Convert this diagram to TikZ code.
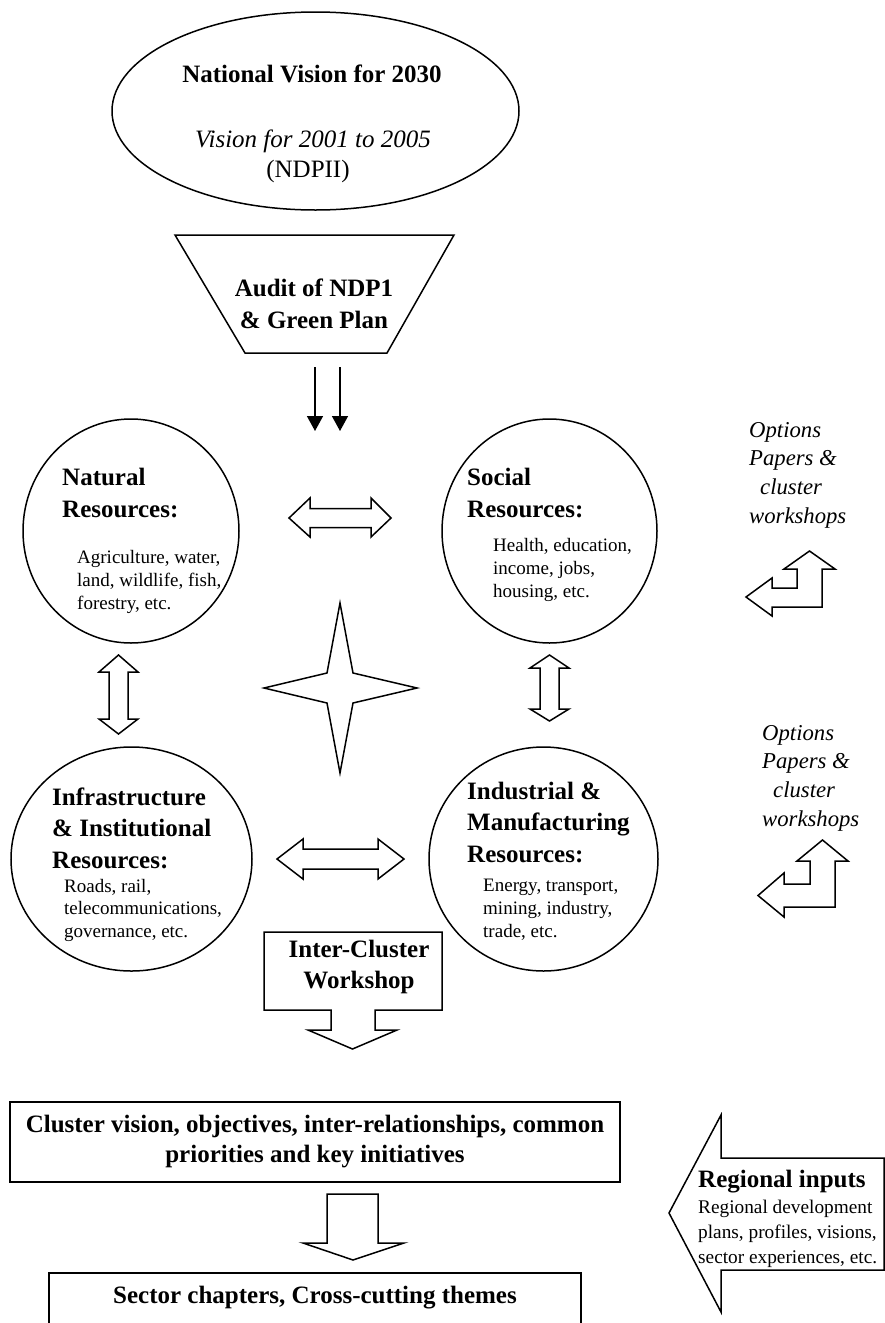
\documentclass[tikz,border=0pt]{standalone}
\usepackage{fontspec}
\setmainfont{Liberation Serif}
\usetikzlibrary{arrows.meta,shapes.geometric}
\newcommand{\firstht}[1]{\rule{0pt}{#1pt}}
\tikzset{
  outline/.style={draw=black, line width=1.5pt, line join=miter},
  bubble/.style={outline, ellipse, inner sep=0pt},
  bigb/.style={font=\fontsize{25}{32}\selectfont\bfseries, inner sep=0pt},
  bigbx/.style={font=\fontsize{25}{31.5}\selectfont\bfseries, inner sep=0pt},
  smalltxt/.style={font=\fontsize{19}{23}\selectfont, inner sep=0pt, align=left},
  opttxt/.style={font=\fontsize{22.7}{28.7}\selectfont\itshape, inner sep=0pt, align=left},
  thinarrow/.style={line width=1.5pt, -{Triangle[width=16pt,length=15pt]}},
}
\begin{document}
\begin{tikzpicture}[x=1pt,y=-1pt]
\useasboundingbox (0,0) rectangle (885,1323);

% top ellipse
\node[bubble, minimum width=407pt, minimum height=198pt] (vision) at (315.5,111) {};
\node[bigb, anchor=base] (visiont) at (312,82) {National Vision for 2030};
\node[font=\fontsize{25}{30}\selectfont\itshape, inner sep=0pt, anchor=base] (visioni) at (313,147) {Vision for 2001 to 2005};
\node[font=\fontsize{25}{30}\selectfont, inner sep=0pt, anchor=base] (visionn) at (308,177) {(NDPII)};

% trapezoid
\draw[outline] (175,235) -- (454,235) -- (387,353) -- (245,353) -- cycle;
\node[bigb, align=center, anchor=north] (audit) at (314,278) {\firstht{18}Audit of NDP1\\\& Green Plan};

% thin arrows
\coordinate (a1s) at (315,367); \coordinate (a1e) at (315,431);
\coordinate (a2s) at (340,367); \coordinate (a2e) at (340,431);
\draw[thinarrow] (a1s) -- (a1e);
\draw[thinarrow] (a2s) -- (a2e);

% circles
\node[bubble, minimum width=216pt, minimum height=224pt] (natural) at (131,531) {};
\node[bubble, minimum width=215pt, minimum height=224pt] (social) at (549.5,531) {};
\node[bubble, minimum width=241pt, minimum height=224pt] (infra) at (131.5,859) {};
\node[bubble, minimum width=229pt, minimum height=224pt] (indus) at (543.5,859) {};

\node[bigb, align=left, anchor=north west] (naturalt) at (62,467) {\firstht{18}Natural\\Resources:};
\node[smalltxt, anchor=north west] (naturals) at (77,549) {\firstht{14}Agriculture, water,\\land, wildlife, fish,\\forestry, etc.};

\node[bigb, align=left, anchor=north west] (socialt) at (467,467) {\firstht{18}Social\\Resources:};
\node[smalltxt, anchor=north west] (socials) at (493,537) {\firstht{14}Health, education,\\income, jobs,\\housing, etc.};

\node[bigbx, align=left, anchor=north west] (infrat) at (52,787) {\firstht{18}Infrastructure\\\& Institutional\\Resources:};
\node[smalltxt, font=\fontsize{19}{22.5}\selectfont, anchor=north west] (infras) at (64,878) {\firstht{14}Roads, rail,\\telecommunications,\\governance, etc.};

\node[bigbx, align=left, anchor=north west] (indust) at (467,781) {\firstht{18}Industrial \&\\Manufacturing\\Resources:};
\node[smalltxt, anchor=north west] (induss) at (483,877) {\firstht{14}Energy, transport,\\mining, industry,\\trade, etc.};

% horizontal double arrows
\draw[outline] (289,518) -- (310,498) -- (310,508.5) -- (371,508.5) -- (371,498) -- (391,518) -- (371,537) -- (371,527.5) -- (310,527.5) -- (310,537) -- cycle;
\draw[outline] (277,859) -- (303,839) -- (303,849) -- (378,849) -- (378,839) -- (404,859) -- (378,879) -- (378,869) -- (303,869) -- (303,879) -- cycle;

% vertical double arrows
\draw[outline] (118.5,655) -- (138,672) -- (128,672) -- (128,719) -- (138,719) -- (118.5,734) -- (99,719) -- (109,719) -- (109,672) -- (99,672) -- cycle;
\draw[outline] (549.5,655) -- (569,668) -- (559,668) -- (559,709) -- (569,709) -- (549.5,721) -- (530,709) -- (540,709) -- (540,668) -- (530,668) -- cycle;

% star
\draw[outline] (340,603) -- (353,673) -- (417,688) -- (353,703) -- (340,773) -- (327,703) -- (264,688) -- (327,673) -- cycle;

% options text and bent arrows
\node[opttxt, anchor=north west] (opt1) at (749,421) {\firstht{16}Options\\Papers \&\\\hspace*{11pt}cluster\\workshops};
\node[opttxt, anchor=north west] (opt2) at (762,724) {\firstht{16}Options\\Papers \&\\\hspace*{11pt}cluster\\workshops};
\draw[outline] (809.5,551) -- (835,569) -- (822,569) -- (822,607) -- (772,607) -- (772,616) -- (746,597) -- (772,578) -- (772,588) -- (797,588) -- (797,569) -- (784,569) -- cycle;
\draw[outline] (822.5,840) -- (848,861) -- (835,861) -- (835,907) -- (784,907) -- (784,917) -- (758,895.5) -- (784,873) -- (784,884) -- (810,884) -- (810,861) -- (797,861) -- cycle;

% inter-cluster box arrow
\draw[outline] (264,932) -- (442,932) -- (442,1010) -- (375,1010) -- (375,1030) -- (397,1030) -- (352.5,1049) -- (308,1030) -- (331,1030) -- (331,1010) -- (264,1010) -- cycle;
\node[bigb, font=\fontsize{25}{31}\selectfont\bfseries, align=center, anchor=north] (intert) at (359,939) {\firstht{18}Inter-Cluster\\Workshop};

% cluster box
\node[outline, rectangle, minimum width=610pt, minimum height=80pt, inner sep=0pt, align=center, font=\fontsize{25}{30}\selectfont\bfseries] (cluster) at (315,1142) {Cluster vision, objectives, inter-relationships, common\\priorities and key initiatives};

% middle down arrow
\draw[outline] (327,1194) -- (378,1194) -- (378,1243) -- (404,1243) -- (353,1260) -- (303,1243) -- (327,1243) -- cycle;

% sector box (cut by the page edge)
\draw[outline] (49,1324) -- (49,1273) -- (581,1273) -- (581,1324);
\node[bigb, anchor=base] (sector) at (315,1303) {Sector chapters, Cross-cutting themes};

% regional inputs arrow
\draw[outline] (669,1213) -- (721,1115) -- (721,1158) -- (884,1158) -- (884,1270) -- (721,1270) -- (721,1312) -- cycle;
\node[bigb, anchor=base west] (regiont) at (698,1187) {Regional inputs};
\node[smalltxt, font=\fontsize{19.3}{25}\selectfont, anchor=north west] (regions) at (698,1199) {\firstht{14}Regional development\\plans, profiles, visions,\\sector experiences, etc.};
\end{tikzpicture}
\end{document}
